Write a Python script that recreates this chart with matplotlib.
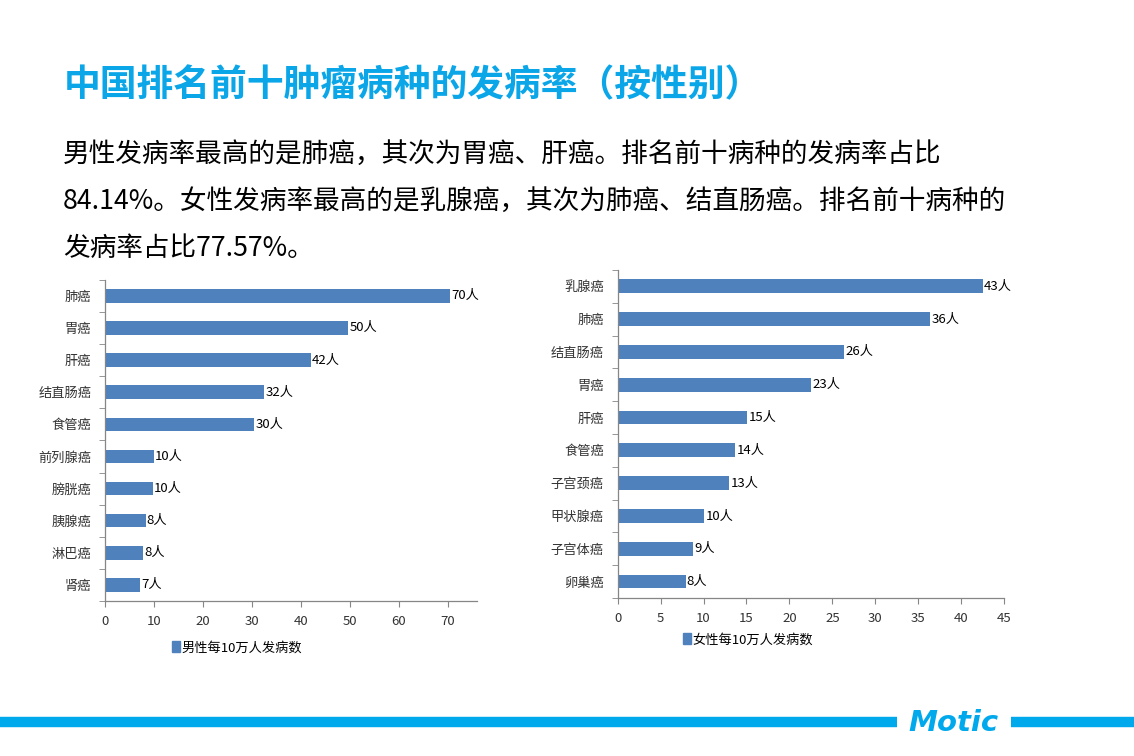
import matplotlib
matplotlib.use("Agg")
import matplotlib.pyplot as plt
from matplotlib.lines import Line2D
from matplotlib.patches import Patch

plt.rcParams["font.family"] = ["Noto Sans CJK SC", "DejaVu Sans"]

# male chart
male_names = ["肺癌", "胃癌", "肝癌", "结直肠癌", "食管癌", "前列腺癌", "膀胱癌", "胰腺癌", "淋巴癌", "肾癌"]
male_values = [70.5, 49.7, 42.0, 32.5, 30.5, 10.0, 9.8, 8.3, 7.8, 7.2]
male_labels = ["70人", "50人", "42人", "32人", "30人", "10人", "10人", "8人", "8人", "7人"]
male_ticks = [0, 10, 20, 30, 40, 50, 60, 70]
male_legend = "男性每10万人发病数"

# female chart
female_names = ["乳腺癌", "肺癌", "结直肠癌", "胃癌", "肝癌", "食管癌", "子宫颈癌", "甲状腺癌", "子宫体癌", "卵巢癌"]
female_values = [42.5, 36.4, 26.4, 22.5, 15.1, 13.7, 13.0, 10.1, 8.8, 7.9]
female_labels = ["43人", "36人", "26人", "23人", "15人", "14人", "13人", "10人", "9人", "8人"]
female_ticks = [0, 5, 10, 15, 20, 25, 30, 35, 40, 45]
female_legend = "女性每10万人发病数"

title = "中国排名前十肿瘤病种的发病率（按性别）"
body_lines = [
    "男性发病率最高的是肺癌，其次为胃癌、肝癌。排名前十病种的发病率占比",
    "84.14%。女性发病率最高的是乳腺癌，其次为肺癌、结直肠癌。排名前十病种的",
    "发病率占比77.57%。",
]

BAR = "#4f81bd"
CYAN = "#0aa6e8"
SPINE = "#868686"
TXT = "#333333"

W, H = 1134, 756
fig = plt.figure(figsize=(W / 100, H / 100), dpi=100)
fig.patch.set_facecolor("white")

# page overlay in pixel coords
bg = fig.add_axes((0, 0, 1, 1))
bg.set_xlim(0, W)
bg.set_ylim(H, 0)
bg.axis("off")

bg.text(64, 86, title, fontsize=26.5, fontweight="bold", color=CYAN, va="center", ha="left")
for i, line in enumerate(body_lines):
    bg.text(63, 154 + i * 47.5, line, fontsize=19.2, color="black", va="center", ha="left")

bg.add_line(Line2D([0, 897], [722, 722], color="#00a8ec", linewidth=7.5, solid_capstyle="butt"))
bg.add_line(Line2D([1011, W], [722, 722], color="#00a8ec", linewidth=7.5, solid_capstyle="butt"))
bg.text(953, 723, "Motic", fontsize=21, fontweight="bold", fontstyle="italic",
        color="#00a8ec", ha="center", va="center", family="DejaVu Sans")


def bar_panel(rect, names, values, labels, ticks, xmax, legend_text, legend_pos):
    ax = fig.add_axes(rect)
    y = list(range(len(names)))
    ax.barh(y, values, height=0.42, color=BAR, zorder=2)
    for yi, v, lab in zip(y, values, labels):
        ax.text(v + xmax * 0.003, yi, lab, fontsize=9.5, color="black", va="center", ha="left")
    ax.set_ylim(len(names) - 0.5, -0.5)
    ax.set_xlim(0, xmax)
    ax.set_yticks(y)
    ax.set_yticklabels(names, fontsize=9.5, color=TXT)
    ax.set_yticks([i + 0.5 for i in range(-1, len(names))], minor=True)
    ax.tick_params(axis="y", which="major", length=0, pad=10)
    ax.tick_params(axis="y", which="minor", length=4, color=SPINE, direction="out")
    ax.set_xticks(ticks)
    ax.tick_params(axis="x", labelsize=9.5, colors=TXT, length=4, color=SPINE, pad=6)
    for side in ("top", "right"):
        ax.spines[side].set_visible(False)
    for side in ("left", "bottom"):
        ax.spines[side].set_color(SPINE)
        ax.spines[side].set_linewidth(0.9)
    ax.legend(handles=[Patch(color=BAR, label=legend_text)], loc="center",
              bbox_to_anchor=legend_pos, frameon=False, fontsize=9.5,
              handlelength=0.6, handleheight=0.9, handletextpad=0.1)
    return ax


bar_panel((0.0926, 0.205, 0.328, 0.425), male_names, male_values, male_labels,
          male_ticks, 76, male_legend, (0.355, -0.146))
bar_panel((0.5447, 0.209, 0.3407, 0.434), female_names, female_values, female_labels,
          female_ticks, 45, female_legend, (0.337, -0.128))

fig.savefig("out.png", dpi=100, facecolor="white")
